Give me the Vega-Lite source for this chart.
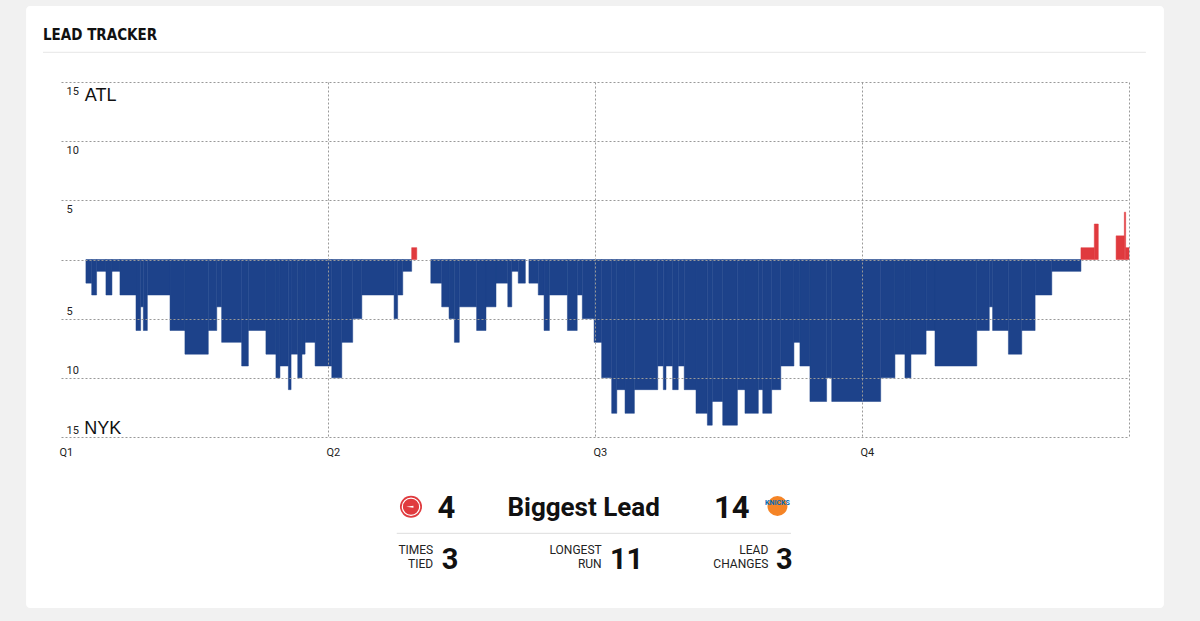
{
  "$schema": "https://vega.github.io/schema/vega-lite/v6.json",
  "width": 1068,
  "height": 355,
  "autosize": {"type": "none"},
  "padding": {"left": 61, "top": 82, "right": 71, "bottom": 184},
  "background": "#f1f1f1",
  "config": {"view": {"stroke": null}, "font": "Roboto"},
  "datasets": {
    "lead": [
      {"start": 1.12, "end": 1.38, "lead": -2},
      {"start": 1.38, "end": 1.60, "lead": -3},
      {"start": 1.60, "end": 2.02, "lead": -1},
      {"start": 2.02, "end": 2.29, "lead": -3},
      {"start": 2.29, "end": 2.65, "lead": -1},
      {"start": 2.65, "end": 3.37, "lead": -3},
      {"start": 3.37, "end": 3.58, "lead": -6},
      {"start": 3.58, "end": 3.70, "lead": -4},
      {"start": 3.70, "end": 3.88, "lead": -6},
      {"start": 3.88, "end": 4.90, "lead": -3},
      {"start": 4.90, "end": 5.57, "lead": -6},
      {"start": 5.57, "end": 6.62, "lead": -8},
      {"start": 6.62, "end": 7.00, "lead": -6},
      {"start": 7.00, "end": 7.22, "lead": -4},
      {"start": 7.22, "end": 8.12, "lead": -7},
      {"start": 8.12, "end": 8.42, "lead": -9},
      {"start": 8.42, "end": 9.21, "lead": -6},
      {"start": 9.21, "end": 9.66, "lead": -8},
      {"start": 9.66, "end": 9.84, "lead": -10},
      {"start": 9.84, "end": 10.22, "lead": -9},
      {"start": 10.22, "end": 10.34, "lead": -11},
      {"start": 10.34, "end": 10.64, "lead": -8},
      {"start": 10.64, "end": 10.83, "lead": -10},
      {"start": 10.83, "end": 10.97, "lead": -8},
      {"start": 10.97, "end": 11.42, "lead": -7},
      {"start": 11.42, "end": 12.17, "lead": -9},
      {"start": 12.17, "end": 12.62, "lead": -10},
      {"start": 12.62, "end": 13.11, "lead": -7},
      {"start": 13.11, "end": 13.52, "lead": -5},
      {"start": 13.52, "end": 14.97, "lead": -3},
      {"start": 14.97, "end": 15.13, "lead": -5},
      {"start": 15.13, "end": 15.36, "lead": -3},
      {"start": 15.36, "end": 15.76, "lead": -1},
      {"start": 15.76, "end": 15.99, "lead": 1},
      {"start": 16.62, "end": 17.11, "lead": -2},
      {"start": 17.11, "end": 17.44, "lead": -4},
      {"start": 17.44, "end": 17.68, "lead": -5},
      {"start": 17.68, "end": 17.90, "lead": -7},
      {"start": 17.90, "end": 18.68, "lead": -4},
      {"start": 18.68, "end": 19.10, "lead": -6},
      {"start": 19.10, "end": 19.55, "lead": -4},
      {"start": 19.55, "end": 20.08, "lead": -2},
      {"start": 20.08, "end": 20.26, "lead": -4},
      {"start": 20.26, "end": 20.55, "lead": -1},
      {"start": 20.55, "end": 20.87, "lead": -2},
      {"start": 21.03, "end": 21.45, "lead": -2},
      {"start": 21.45, "end": 21.71, "lead": -3},
      {"start": 21.71, "end": 21.95, "lead": -6},
      {"start": 21.95, "end": 22.76, "lead": -3},
      {"start": 22.76, "end": 23.20, "lead": -6},
      {"start": 23.20, "end": 23.43, "lead": -3},
      {"start": 23.43, "end": 23.96, "lead": -5},
      {"start": 23.96, "end": 24.30, "lead": -7},
      {"start": 24.30, "end": 24.75, "lead": -10},
      {"start": 24.75, "end": 24.98, "lead": -13},
      {"start": 24.98, "end": 25.35, "lead": -11},
      {"start": 25.35, "end": 25.77, "lead": -13},
      {"start": 25.77, "end": 26.82, "lead": -11},
      {"start": 26.82, "end": 27.07, "lead": -9},
      {"start": 27.07, "end": 27.19, "lead": -11},
      {"start": 27.19, "end": 27.49, "lead": -9},
      {"start": 27.49, "end": 27.74, "lead": -11},
      {"start": 27.74, "end": 28.01, "lead": -9},
      {"start": 28.01, "end": 28.54, "lead": -11},
      {"start": 28.54, "end": 29.05, "lead": -13},
      {"start": 29.05, "end": 29.27, "lead": -14},
      {"start": 29.27, "end": 29.74, "lead": -12},
      {"start": 29.74, "end": 30.40, "lead": -14},
      {"start": 30.40, "end": 30.74, "lead": -11},
      {"start": 30.74, "end": 31.34, "lead": -13},
      {"start": 31.34, "end": 31.54, "lead": -11},
      {"start": 31.54, "end": 31.94, "lead": -13},
      {"start": 31.94, "end": 32.35, "lead": -11},
      {"start": 32.35, "end": 32.94, "lead": -9},
      {"start": 32.94, "end": 33.21, "lead": -7},
      {"start": 33.21, "end": 33.66, "lead": -9},
      {"start": 33.66, "end": 34.41, "lead": -12},
      {"start": 34.41, "end": 34.64, "lead": -10},
      {"start": 34.64, "end": 36.84, "lead": -12},
      {"start": 36.84, "end": 37.48, "lead": -10},
      {"start": 37.48, "end": 37.93, "lead": -8},
      {"start": 37.93, "end": 38.20, "lead": -10},
      {"start": 38.20, "end": 38.88, "lead": -8},
      {"start": 38.88, "end": 39.28, "lead": -6},
      {"start": 39.28, "end": 41.16, "lead": -9},
      {"start": 41.16, "end": 41.72, "lead": -6},
      {"start": 41.72, "end": 41.87, "lead": -4},
      {"start": 41.87, "end": 42.58, "lead": -6},
      {"start": 42.58, "end": 43.18, "lead": -8},
      {"start": 43.18, "end": 43.78, "lead": -6},
      {"start": 43.78, "end": 44.53, "lead": -3},
      {"start": 44.53, "end": 45.84, "lead": -1},
      {"start": 45.84, "end": 46.44, "lead": 1},
      {"start": 46.44, "end": 46.62, "lead": 3},
      {"start": 47.42, "end": 47.79, "lead": 2},
      {"start": 47.79, "end": 47.85, "lead": 4},
      {"start": 47.85, "end": 48.00, "lead": 1}
    ],
    "stats": [
      {"stat": "atl_biggest_lead", "value": 4},
      {"stat": "nyk_biggest_lead", "value": 14},
      {"stat": "times_tied", "value": 3},
      {"stat": "longest_run", "value": 11},
      {"stat": "lead_changes", "value": 3}
    ]
  },
  "layer": [
    {
      "data": {"values": [{}]},
      "mark": {"type": "rect", "color": "white", "cornerRadius": 4},
      "encoding": {
        "x": {"datum": -1.57},
        "x2": {"datum": 49.57},
        "y": {"datum": 21.42},
        "y2": {"datum": -29.45}
      }
    },
    {
      "data": {"name": "lead"},
      "mark": {"type": "rect", "strokeWidth": 0.5},
      "encoding": {
        "x": {
          "field": "start", "type": "quantitative",
          "scale": {"domain": [0, 48], "nice": false, "zero": false},
          "axis": {
            "title": null, "values": [0, 12, 24, 36, 48],
            "labelExpr": "datum.value == 48 ? '' : 'Q' + (datum.value / 12 + 1)",
            "domain": false, "ticks": false, "tickSize": 0,
            "labelAlign": "left", "labelBaseline": "top", "labelPadding": 9, "labelOffset": -2,
            "labelFlush": false, "labelOverlap": false, "labelBound": false,
            "labelFont": "Roboto", "labelFontSize": 11, "labelColor": "#222",
            "grid": true, "gridDash": [2, 2], "gridColor": "#999999",
            "gridOpacity": {"condition": {"test": "datum.value == 0", "value": 0}, "value": 1},
            "zindex": 1
          }
        },
        "x2": {"field": "end"},
        "y": {
          "field": "lead", "type": "quantitative",
          "scale": {"domain": [-15, 15], "nice": false, "zero": false},
          "axis": {
            "title": null, "values": [-15, -10, -5, 0, 5, 10, 15],
            "labelExpr": "datum.value == 0 ? '' : '' + abs(datum.value)",
            "domain": false, "ticks": false, "tickSize": 0,
            "labelAlign": "left", "labelBaseline": "middle", "labelPadding": -5,
            "labelOffset": {"condition": {"test": "datum.value > 0", "value": 9}, "value": -7},
            "labelOverlap": false, "labelBound": false,
            "labelFont": "Roboto", "labelFontSize": 11, "labelColor": "#222",
            "grid": true, "gridDash": [2, 2], "gridColor": "#999999",
            "zindex": 1
          }
        },
        "y2": {"datum": 0},
        "color": {"condition": {"test": "datum.lead > 0", "value": "#e03a3e"}, "value": "#1d428a"},
        "stroke": {"condition": {"test": "datum.lead > 0", "value": "#e03a3e"}, "value": "#1d428a"}
      }
    },
    {
      "data": {"values": [{}]},
      "mark": {"type": "text", "text": "LEAD TRACKER", "font": "DejaVu Sans Condensed, sans-serif", "fontWeight": "bold", "fontSize": 15, "align": "left", "baseline": "alphabetic", "color": "#111"},
      "encoding": {
        "x": {"datum": -0.81},
        "y": {"datum": 18.59}
      }
    },
    {
      "data": {"values": [{}]},
      "mark": {"type": "rule", "color": "#e6e6e6", "strokeWidth": 1},
      "encoding": {
        "x": {"datum": -0.81},
        "x2": {"datum": 48.76},
        "y": {"datum": 17.51}
      }
    },
    {
      "data": {"values": [{}]},
      "mark": {"type": "text", "text": "ATL", "font": "Liberation Sans, Arial, sans-serif", "fontSize": 18, "align": "left", "baseline": "alphabetic", "color": "#111"},
      "encoding": {
        "x": {"datum": 1.07},
        "y": {"datum": 13.42}
      }
    },
    {
      "data": {"values": [{}]},
      "mark": {"type": "text", "text": "NYK", "font": "Liberation Sans, Arial, sans-serif", "fontSize": 18, "align": "left", "baseline": "alphabetic", "color": "#111"},
      "encoding": {
        "x": {"datum": 1.05},
        "y": {"datum": -14.75}
      }
    },
    {
      "data": {"values": [{}]},
      "mark": {"type": "point", "shape": "circle", "filled": true, "color": "#e03a3e", "size": 484, "opacity": 1},
      "encoding": {
        "x": {"datum": 15.73},
        "y": {"datum": -20.89}
      }
    },
    {
      "data": {"values": [{}]},
      "mark": {"type": "point", "shape": "circle", "filled": false, "stroke": "white", "strokeWidth": 1.2, "size": 300, "opacity": 1},
      "encoding": {
        "x": {"datum": 15.73},
        "y": {"datum": -20.89}
      }
    },
    {
      "data": {"values": [{}]},
      "mark": {"type": "point", "shape": "wedge", "filled": true, "color": "white", "size": 70, "angle": 270, "opacity": 1},
      "encoding": {
        "x": {"datum": 15.73},
        "y": {"datum": -20.89}
      }
    },
    {
      "data": {"name": "stats"},
      "transform": [{"filter": "datum.stat == 'atl_biggest_lead'"}],
      "mark": {"type": "text", "font": "Roboto", "fontWeight": "bold", "fontSize": 31, "align": "center", "baseline": "alphabetic", "color": "#111"},
      "encoding": {
        "x": {"datum": 17.32},
        "y": {"datum": -21.87},
        "text": {"field": "value", "type": "quantitative"}
      }
    },
    {
      "data": {"values": [{}]},
      "mark": {"type": "text", "text": "Biggest Lead", "font": "Roboto", "fontWeight": "bold", "fontSize": 26, "align": "center", "baseline": "alphabetic", "color": "#111"},
      "encoding": {
        "x": {"datum": 23.49},
        "y": {"datum": -21.68}
      }
    },
    {
      "data": {"name": "stats"},
      "transform": [{"filter": "datum.stat == 'nyk_biggest_lead'"}],
      "mark": {"type": "text", "font": "Roboto", "fontWeight": "bold", "fontSize": 31, "align": "center", "baseline": "alphabetic", "color": "#111"},
      "encoding": {
        "x": {"datum": 30.15},
        "y": {"datum": -21.87},
        "text": {"field": "value", "type": "quantitative"}
      }
    },
    {
      "data": {"values": [{}]},
      "mark": {"type": "point", "shape": "circle", "filled": true, "color": "#f58426", "size": 400, "opacity": 1},
      "encoding": {
        "x": {"datum": 32.2},
        "y": {"datum": -20.83}
      }
    },
    {
      "data": {"values": [{}]},
      "mark": {"type": "text", "text": "KNICKS", "font": "Roboto", "fontWeight": "bold", "fontSize": 7, "align": "center", "baseline": "middle", "color": "#006bb6"},
      "encoding": {
        "x": {"datum": 32.2},
        "y": {"datum": -20.6}
      }
    },
    {
      "data": {"values": [{}]},
      "mark": {"type": "rule", "color": "#dddddd", "strokeWidth": 1},
      "encoding": {
        "x": {"datum": 15.09},
        "x2": {"datum": 32.81},
        "y": {"datum": -23.14}
      }
    },
    {
      "data": {"values": [{}]},
      "mark": {"type": "text", "text": ["TIMES", "TIED"], "lineHeight": 14.5, "font": "Roboto", "fontSize": 12, "align": "right", "baseline": "alphabetic", "color": "#222"},
      "encoding": {
        "x": {"datum": 16.73},
        "y": {"datum": -24.85}
      }
    },
    {
      "data": {"name": "stats"},
      "transform": [{"filter": "datum.stat == 'times_tied'"}],
      "mark": {"type": "text", "font": "Roboto", "fontWeight": "bold", "fontSize": 29, "align": "left", "baseline": "alphabetic", "color": "#111"},
      "encoding": {
        "x": {"datum": 17.11},
        "y": {"datum": -26.16},
        "text": {"field": "value", "type": "quantitative"}
      }
    },
    {
      "data": {"values": [{}]},
      "mark": {"type": "text", "text": ["LONGEST", "RUN"], "lineHeight": 14.5, "font": "Roboto", "fontSize": 12, "align": "right", "baseline": "alphabetic", "color": "#222"},
      "encoding": {
        "x": {"datum": 24.3},
        "y": {"datum": -24.85}
      }
    },
    {
      "data": {"name": "stats"},
      "transform": [{"filter": "datum.stat == 'longest_run'"}],
      "mark": {"type": "text", "font": "Roboto", "fontWeight": "bold", "fontSize": 29, "align": "left", "baseline": "alphabetic", "color": "#111"},
      "encoding": {
        "x": {"datum": 24.67},
        "y": {"datum": -26.16},
        "text": {"field": "value", "type": "quantitative"}
      }
    },
    {
      "data": {"values": [{}]},
      "mark": {"type": "text", "text": ["LEAD", "CHANGES"], "lineHeight": 14.5, "font": "Roboto", "fontSize": 12, "align": "right", "baseline": "alphabetic", "color": "#222"},
      "encoding": {
        "x": {"datum": 31.79},
        "y": {"datum": -24.85}
      }
    },
    {
      "data": {"name": "stats"},
      "transform": [{"filter": "datum.stat == 'lead_changes'"}],
      "mark": {"type": "text", "font": "Roboto", "fontWeight": "bold", "fontSize": 29, "align": "left", "baseline": "alphabetic", "color": "#111"},
      "encoding": {
        "x": {"datum": 32.13},
        "y": {"datum": -26.16},
        "text": {"field": "value", "type": "quantitative"}
      }
    }
  ]
}
